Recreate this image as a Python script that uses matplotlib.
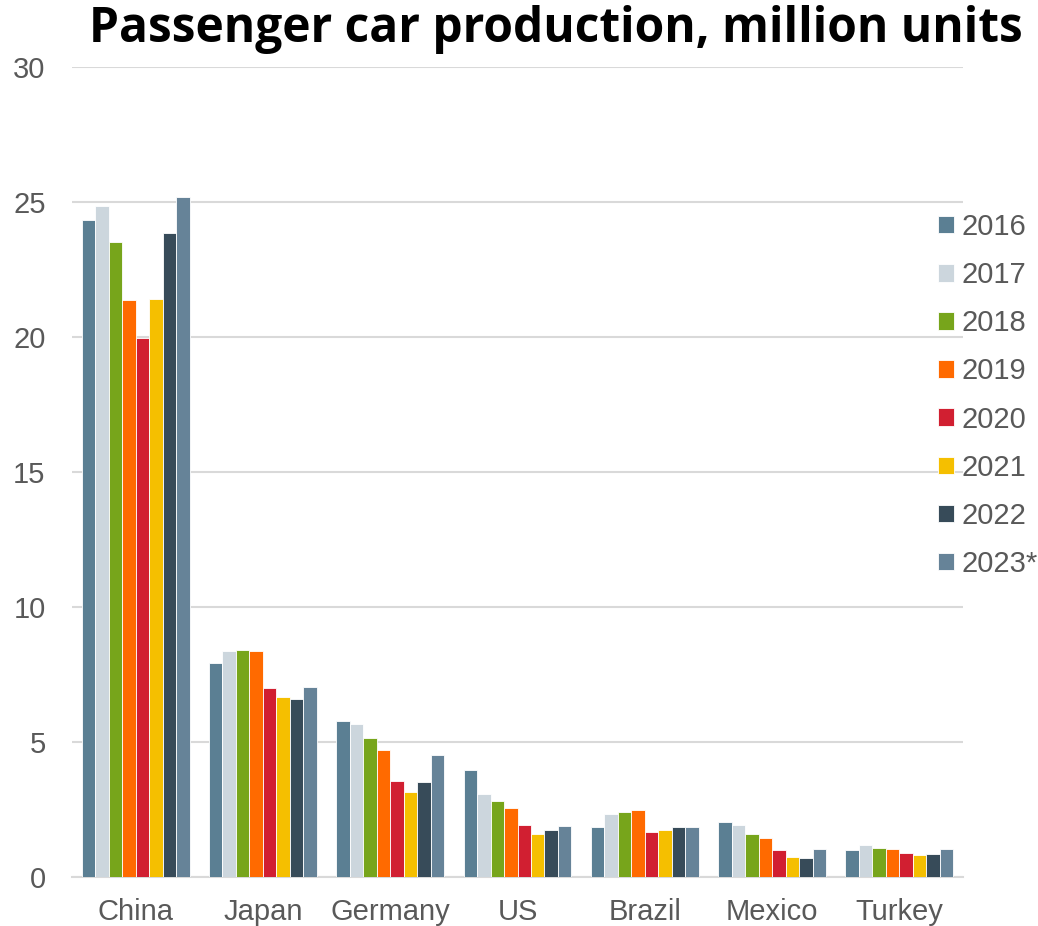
import matplotlib
matplotlib.use("Agg")
import matplotlib.pyplot as plt
import numpy as np

countries = ["China", "Japan", "Germany", "US", "Brazil", "Mexico", "Turkey"]
years = ["2016", "2017", "2018", "2019", "2020", "2021", "2022", "2023*"]
values = {
    "2016":  [24.33, 7.91, 5.79, 3.95, 1.84, 2.04, 0.99],
    "2017":  [24.85, 8.38, 5.68, 3.07, 2.34, 1.93, 1.17],
    "2018":  [23.50, 8.41, 5.16, 2.82, 2.41, 1.61, 1.07],
    "2019":  [21.37, 8.37, 4.70, 2.56, 2.49, 1.43, 1.02],
    "2020":  [19.96, 6.99, 3.56, 1.94, 1.65, 1.01, 0.89],
    "2021":  [21.40, 6.65, 3.13, 1.60, 1.75, 0.75, 0.81],
    "2022":  [23.85, 6.60, 3.53, 1.74, 1.85, 0.70, 0.84],
    "2023*": [25.20, 7.04, 4.52, 1.89, 1.85, 1.05, 1.02],
}
colors = ["#5b7f93", "#ccd6dd", "#77a51b", "#ff6a00", "#d11f31", "#f5bf00", "#374b59", "#668398"]

plt.rcParams['font.family'] = ['Liberation Sans', 'DejaVu Sans']
fig = plt.figure(figsize=(10.38, 9.26), dpi=100)
ax = fig.add_axes([72/1038, 1 - 877/926, 891/1038, 810/926])

x = np.arange(len(countries))
bw = 0.106
n = len(years)
for i, (y, c) in enumerate(zip(years, colors)):
    ax.bar(x + (i - (n - 1) / 2) * bw, values[y], width=bw, color=c,
           edgecolor="white", linewidth=0.6, label=y, zorder=3)

ax.set_xlim(-0.5, len(countries) - 0.5)
ax.set_ylim(0, 30)
ax.set_yticks([0, 5, 10, 15, 20, 25, 30])
ax.set_xticks(x)
ax.set_xticklabels(countries)
ax.tick_params(axis='both', length=0, labelsize=21, colors="#595959")
ax.tick_params(axis='x', pad=15)
ax.tick_params(axis='y', pad=19)
ax.grid(axis='y', color="#d9d9d9", linewidth=1.5, zorder=0)
for s in ["top", "right", "left"]:
    ax.spines[s].set_visible(False)
ax.spines["bottom"].set_color("#d9d9d9")
ax.spines["bottom"].set_linewidth(1.5)

leg = ax.legend(loc="upper left", bbox_to_anchor=(938/1038, 1 - 213/926), bbox_transform=fig.transFigure,
                frameon=False, fontsize=21, handlelength=0.55, handleheight=0.55,
                handletextpad=0.25, labelspacing=0.69, borderaxespad=0, borderpad=0)
for t in leg.get_texts():
    t.set_color("#595959")

fig.text(556/1038, 1 - 29/926, "Passenger car production, million units", ha="center", va="center",
         fontsize=34.5, fontweight="bold", family=["Open Sans", "DejaVu Sans"], color="black")

fig.savefig("out.png", dpi=100)
